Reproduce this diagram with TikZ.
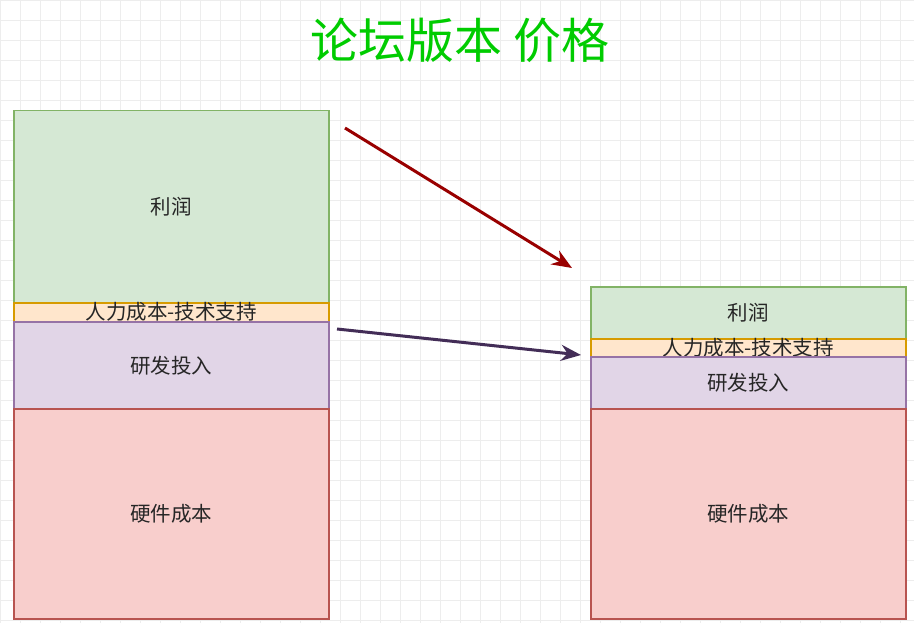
\documentclass[tikz,border=0pt]{standalone}
\usepackage{fontspec}
\newfontfamily\cjk{Noto Sans CJK SC}
\usetikzlibrary{arrows.meta}
\definecolor{gf}{HTML}{D5E8D4}\definecolor{gs}{HTML}{82B366}
\definecolor{of}{HTML}{FFE6CC}\definecolor{os}{HTML}{D79B00}
\definecolor{pf}{HTML}{E1D5E7}\definecolor{ps}{HTML}{9673A6}
\definecolor{rf}{HTML}{F8CECC}\definecolor{rs}{HTML}{B85450}
\definecolor{ttl}{HTML}{00CC00}
\definecolor{ar1}{HTML}{990000}\definecolor{ar2}{HTML}{432D57}
\begin{document}
\begin{tikzpicture}[x=1pt,y=-1pt,font=\cjk\fontsize{20.5}{22}\selectfont,
  box/.style={draw,line width=1.5pt,minimum width=315pt,anchor=north west,inner sep=0pt,text=black!85},
  arr/.style={line width=3pt,-{Stealth[length=20pt,width=16pt]}}]
\useasboundingbox (0,0) rectangle (914,623);
\fill[white] (0,0) rectangle (914,623);
\foreach \i in {0,20,...,900} \draw[black!7,line width=0.6pt] (\i,0) -- (\i,623);
\foreach \j in {0,20,...,620} \draw[black!7,line width=0.6pt] (0,\j) -- (914,\j);
\node[text=ttl,font=\cjk\fontsize{48}{54}\selectfont] (t) at (460,40) {论坛版本 价格};
% left
\node[box,fill=gf,draw=gs,minimum height=192pt] (l1) at (13,110) {利润};
\node[box,fill=of,draw=os,minimum height=19pt] (l2) at (13,302) {人力成本-技术支持};
\node[box,fill=pf,draw=ps,minimum height=87pt] (l3) at (13,321) {研发投入};
\node[box,fill=rf,draw=rs,minimum height=210pt] (l4) at (13,408) {硬件成本};
% right
\node[box,fill=gf,draw=gs,minimum height=52pt] (r1) at (590,286) {利润};
\node[box,fill=of,draw=os,minimum height=18pt] (r2) at (590,338) {人力成本-技术支持};
\node[box,fill=pf,draw=ps,minimum height=52pt] (r3) at (590,356) {研发投入};
\node[box,fill=rf,draw=rs,minimum height=210pt] (r4) at (590,408) {硬件成本};
\coordinate (a1) at (345,128); \coordinate (b1) at (572,268);
\coordinate (a2) at (337,329); \coordinate (b2) at (581,355);
\draw[arr,ar1] (a1) -- (b1);
\draw[arr,ar2] (a2) -- (b2);
\end{tikzpicture}
\end{document}
